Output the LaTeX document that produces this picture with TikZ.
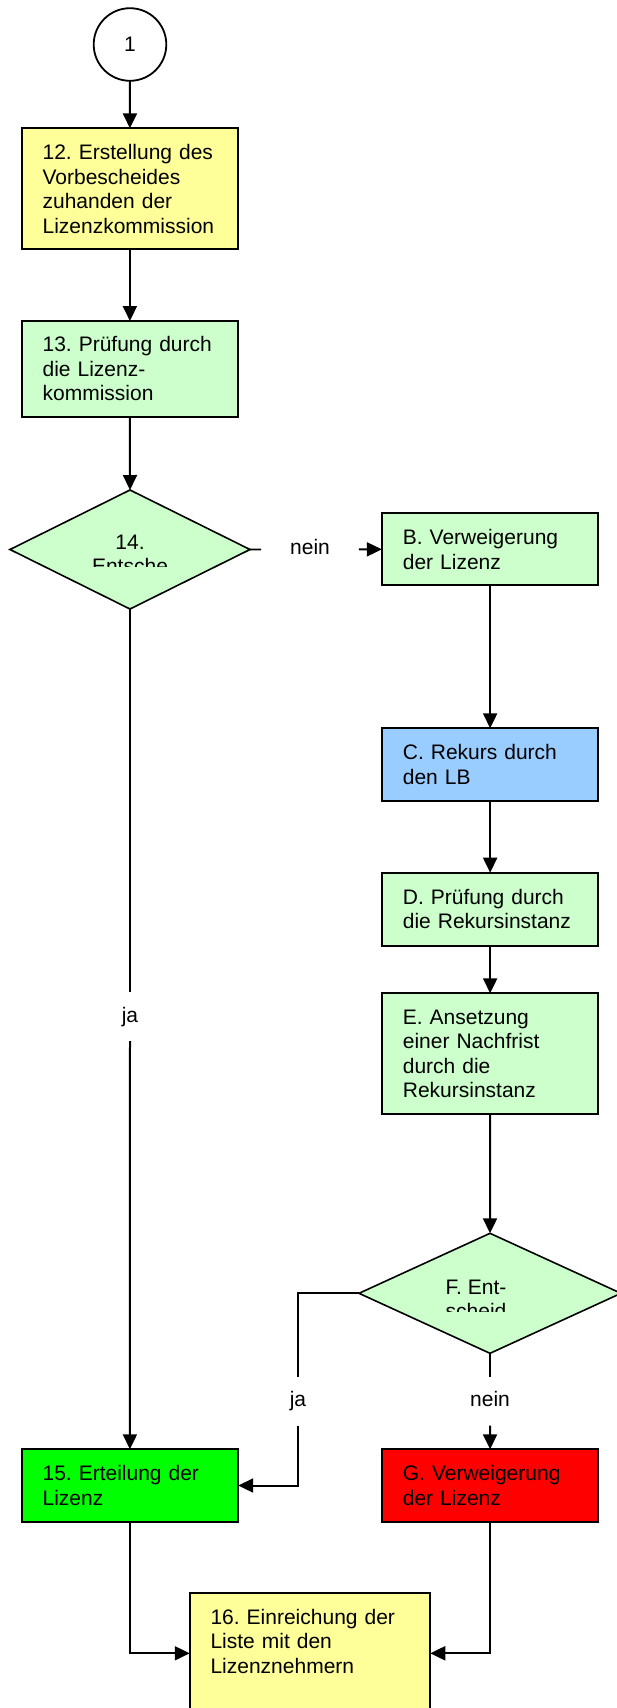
\documentclass[tikz,border=0pt]{standalone}
\usepackage{fontspec}
\setmainfont{Liberation Sans}
\usetikzlibrary{shapes.geometric,arrows.meta}
\definecolor{cyellow}{HTML}{FFFF99}
\definecolor{cgreenl}{HTML}{CCFFCC}
\definecolor{cblue}{HTML}{99CCFF}
\definecolor{cgreen}{HTML}{00FF00}
\definecolor{cred}{HTML}{FF0000}
\newcommand\fsz{\fontsize{21}{24.5}\selectfont\frenchspacing}
\begin{document}
\frenchspacing
\begin{tikzpicture}[x=1pt,y=-1pt,
  every node/.style={outer sep=0pt},
  lbl/.style={font=\fsz, inner xsep=29pt, inner ysep=15pt, text height=15pt, text depth=4pt},
  box/.style={draw, line width=2pt, font=\fsz, align=left, inner sep=0pt, minimum width=216.6pt, text width=174.6pt},
  dia/.style={diamond, draw, line width=1.6pt, fill=cgreenl, inner sep=0pt, aspect=1},
  dtxt/.style={font=\fsz, anchor=base, inner sep=0pt},
  arr/.style={line width=2pt, -{Triangle[length=15pt,width=14pt]}},
  ln/.style={line width=1.8pt}]
\useasboundingbox (0,0) rectangle (617,1708);

% start connector
\node[circle, draw, line width=1.8pt, minimum size=72.6pt, inner sep=0pt, font=\fsz] (c1) at (130,44.5) {1};

% left column
\node[box, fill=cyellow, minimum height=121pt] (b12) at (129.9,188.8) {12. Erstellung des\\Vorbescheides\\zuhanden der\\Lizenzkommission};
\node[box, fill=cgreenl, minimum height=95.7pt] (b13) at (129.9,368.85) {13. Prüfung durch\\die Lizenz-\\kommission};
\node[dia, minimum width=240pt, minimum height=119pt] (d14) at (130,549.5) {};
\begin{scope}
  \clip (70,520) rectangle (190,566.7);
  \node[dtxt] (t14a) at (130,549.3) {14.};
  \node[dtxt] (t14b) at (130,573.8) {Entsche};
\end{scope}
\node[box, fill=cgreen, minimum height=72.4pt] (b15) at (129.9,1485.5) {15. Erteilung der\\Lizenz};

% right column
\node[box, fill=cgreenl, minimum height=72pt] (bB) at (490.15,549.3) {B. Verweigerung\\der Lizenz};
\node[box, fill=cblue, minimum height=72.7pt] (bC) at (490.15,764.65) {C. Rekurs durch\\den LB};
\node[box, fill=cgreenl, minimum height=73pt] (bD) at (490.15,909.2) {D. Prüfung durch\\die Rekursinstanz};
\node[box, fill=cgreenl, minimum height=120.7pt] (bE) at (490.15,1053.65) {E. Ansetzung\\einer Nachfrist\\durch die\\Rekursinstanz};
\node[dia, minimum width=262pt, minimum height=120pt] (dF) at (490,1293.3) {};
\begin{scope}
  \clip (420,1265) rectangle (540,1311.7);
  \node[dtxt] (tFa) at (476,1294) {F. Ent-};
  \node[dtxt] (tFb) at (476,1318.5) {scheid};
\end{scope}
\node[box, fill=cred, minimum height=72.4pt] (bG) at (490.15,1485.5) {G. Verweigerung\\der Lizenz};

% bottom
\node[box, fill=cyellow, minimum width=240.5pt, text width=198.9pt, minimum height=120pt] (b16) at (310,1653.3) {16. Einreichung der\\Liste mit den\\Lizenznehmern\\\mbox{}};

% labels
\node[lbl] (nein1) at (310,549.4) {nein};
\node[lbl] (ja1) at (130,1016.7) {ja};
\node[lbl] (ja2) at (298,1401.2) {ja};
\node[lbl] (nein2) at (490,1401.2) {nein};

% connectors
\draw[arr] (c1.south) -- (b12.north);
\draw[arr] (b12.south) -- (b13.north);
\draw[arr] (b13.south) -- (d14.north);
\draw[ln] (d14.east) -- (nein1.west);
\draw[arr] (nein1.east) -- (bB.west);
\draw[arr] (bB.south) -- (bC.north);
\draw[arr] (bC.south) -- (bD.north);
\draw[arr] (bD.south) -- (bE.north);
\draw[arr] (bE.south) -- (dF.north);
\draw[ln] (dF.west) -| (ja2.north);
\draw[arr] (ja2.south) |- (b15.east);
\draw[ln] (dF.south) -- (nein2.north);
\draw[arr] (nein2.south) -- (bG.north);
\draw[ln] (d14.south) -- (ja1.north);
\draw[arr] (ja1.south) -- (b15.north);
\draw[arr] (b15.south) |- (b16.west);
\draw[arr] (bG.south) |- (b16.east);
\end{tikzpicture}
\end{document}
